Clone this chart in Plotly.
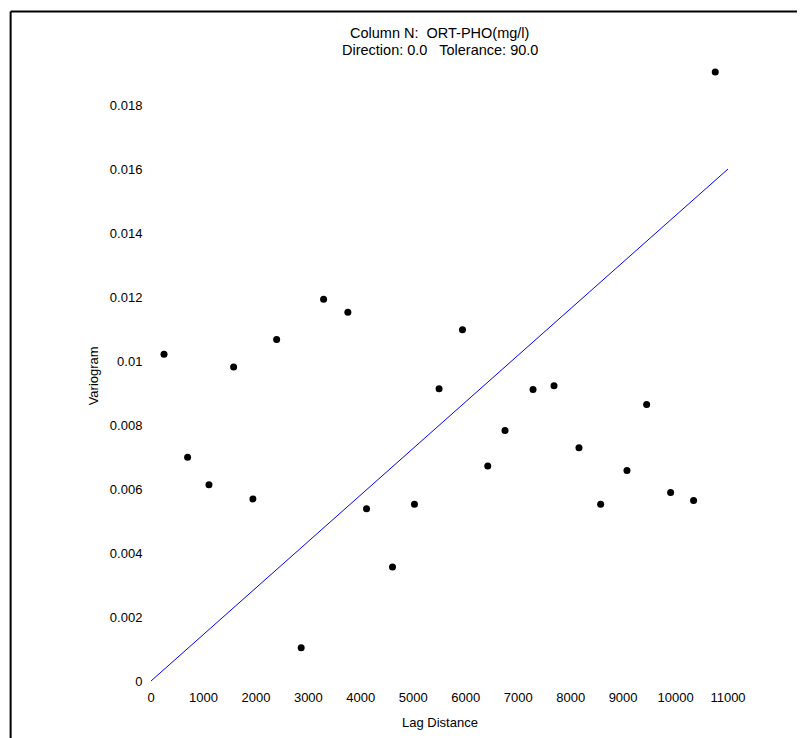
import plotly.graph_objects as go

lag = [248, 698, 1105, 1575, 1943, 2395, 2863, 3290, 3753, 4109, 4604, 5023, 5492,
       5938, 6420, 6749, 7283, 7683, 8159, 8572, 9074, 9449, 9906, 10344, 10757]
gamma = [0.01021, 0.00699, 0.00613, 0.00981, 0.00569, 0.01067, 0.00104, 0.01193,
         0.01152, 0.00538, 0.00356, 0.00552, 0.00913, 0.01098, 0.00672, 0.00783,
         0.00911, 0.00923, 0.00729, 0.00552, 0.00658, 0.00864, 0.00589, 0.00564,
         0.01903]
model_x = [0, 11000]
model_y = [0, 0.016]

x_ticks = [0, 1000, 2000, 3000, 4000, 5000, 6000, 7000, 8000, 9000, 10000, 11000]
y_ticks = [0, 0.002, 0.004, 0.006, 0.008, 0.01, 0.012, 0.014, 0.016, 0.018]
y_tick_text = ["0", "0.002", "0.004", "0.006", "0.008", "0.01", "0.012", "0.014", "0.016", "0.018"]

OFF = 8  # page body margin
W, H = 805 - OFF, 738 - OFF
L = 151 - OFF
R = W - (728.5 - OFF)
T = 56.7 - OFF
B = H - (680.7 - OFF)
pw = W - L - R
ph = H - T - B

def px(x):
    return (x - OFF - L) / pw

def py(y):
    return (H - B - (y - OFF)) / ph

font = "Liberation Sans, Arial, sans-serif"

fig = go.Figure()
fig.add_trace(go.Scatter(x=model_x, y=model_y, mode="lines",
                         line=dict(color="#0000ff", width=1), cliponaxis=False,
                         showlegend=False, hoverinfo="skip"))
fig.add_trace(go.Scatter(x=lag, y=gamma, mode="markers",
                         marker=dict(color="black", size=7), cliponaxis=False,
                         showlegend=False))

fig.update_layout(
    width=W, height=H,
    margin=dict(l=L, r=R, t=T, b=B, pad=0),
    paper_bgcolor="white", plot_bgcolor="white",
    font=dict(family=font, size=13, color="black"),
    xaxis=dict(range=[0, 11000], tickvals=x_ticks, ticktext=[str(v) for v in x_ticks],
               showgrid=False, zeroline=False, showline=False,
               ticks="outside", ticklen=4, tickcolor="rgba(0,0,0,0)",
               tickfont=dict(size=13)),
    yaxis=dict(range=[0, 0.0195], tickvals=y_ticks, ticktext=y_tick_text,
               showgrid=False, zeroline=False, showline=False,
               ticks="outside", ticklen=5, tickcolor="rgba(0,0,0,0)",
               tickfont=dict(size=13)),
    shapes=[
        dict(type="line", xref="paper", yref="paper",
             x0=px(10.5), x1=px(830), y0=py(11.3), y1=py(11.3),
             line=dict(color="black", width=2)),
        dict(type="line", xref="paper", yref="paper",
             x0=px(10.5), x1=px(10.5), y0=py(11.3), y1=py(760),
             line=dict(color="black", width=2)),
    ],
    annotations=[
        dict(text="Column N:  ORT-PHO(mg/l)", xref="paper", yref="paper",
             x=px(440), y=py(33), showarrow=False, xanchor="center", yanchor="middle",
             font=dict(size=14.5)),
        dict(text="Direction: 0.0   Tolerance: 90.0", xref="paper", yref="paper",
             x=px(440), y=py(50), showarrow=False, xanchor="center", yanchor="middle",
             font=dict(size=14.5)),
        dict(text="Lag Distance", xref="paper", yref="paper",
             x=px(440), y=py(722), showarrow=False, xanchor="center", yanchor="middle",
             font=dict(size=13)),
        dict(text="Variogram", xref="paper", yref="paper", textangle=-90,
             x=px(93), y=py(376), showarrow=False, xanchor="center", yanchor="middle",
             font=dict(size=13)),
    ],
)

fig.write_html("out.html")
